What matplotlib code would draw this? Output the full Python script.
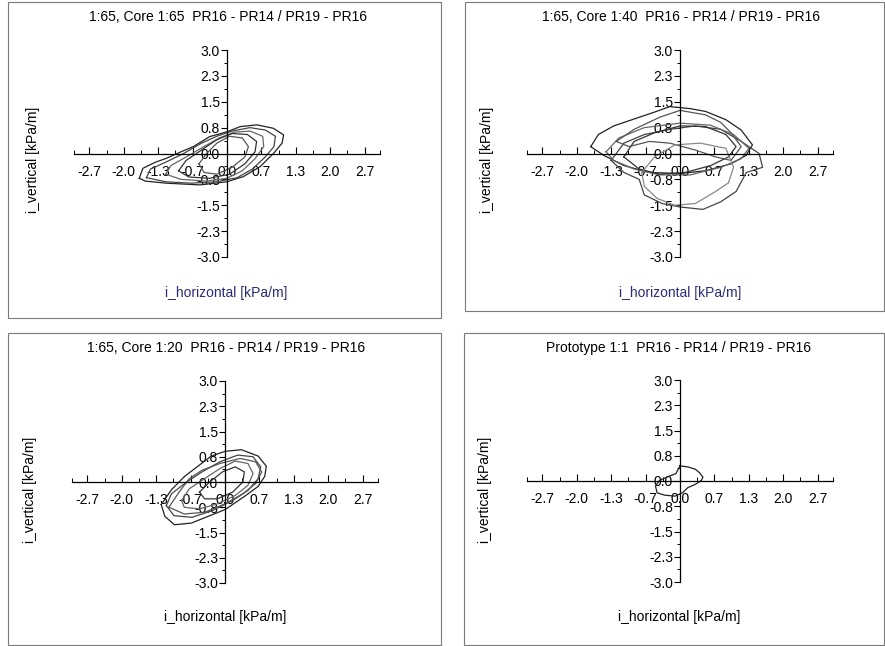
import matplotlib.pyplot as plt
from matplotlib.patches import Rectangle

plt.rcParams['font.family'] = ['Liberation Sans', 'DejaVu Sans']

# hydraulic gradient loops, i_horizontal vs i_vertical [kPa/m]
# 1:65, core 1:65
m65_x = [
    [-1.72, -1.65, -1.4, -1.19, -0.9, -0.66, -0.34, 0.0, 0.26, 0.59, 0.91, 1.11, 1.08, 0.91, 0.65, 0.32, 0.0, -0.53, -1.19, -1.6, -1.72],
    [-1.58, -1.5, -1.2, -0.85, -0.5, -0.2, 0.1, 0.45, 0.75, 0.95, 0.92, 0.75, 0.5, 0.2, -0.2, -0.7, -1.2, -1.58],
    [-1.2, -1.1, -0.8, -0.45, -0.15, 0.15, 0.45, 0.7, 0.72, 0.55, 0.3, 0.0, -0.4, -0.9, -1.2],
    [-0.95, -0.8, -0.5, -0.2, 0.1, 0.4, 0.58, 0.55, 0.35, 0.05, -0.35, -0.75, -0.95],
    [-0.55, -0.4, -0.2, 0.05, 0.3, 0.42, 0.35, 0.1, -0.2, -0.45, -0.55],
]
m65_y = [
    [-0.72, -0.43, -0.25, -0.14, 0.05, 0.2, 0.49, 0.63, 0.78, 0.83, 0.73, 0.54, 0.3, 0.0, -0.38, -0.67, -0.82, -0.91, -0.86, -0.8, -0.72],
    [-0.7, -0.45, -0.25, 0.0, 0.3, 0.5, 0.65, 0.75, 0.68, 0.5, 0.2, -0.1, -0.45, -0.7, -0.82, -0.86, -0.82, -0.7],
    [-0.6, -0.35, -0.1, 0.2, 0.45, 0.62, 0.65, 0.5, 0.2, -0.15, -0.5, -0.72, -0.8, -0.75, -0.6],
    [-0.5, -0.2, 0.1, 0.4, 0.58, 0.55, 0.35, 0.05, -0.3, -0.6, -0.72, -0.68, -0.5],
    [-0.3, 0.0, 0.3, 0.5, 0.45, 0.2, -0.1, -0.4, -0.6, -0.55, -0.3],
]

# 1:65, core 1:40
m40_x = [
    [-1.75, -1.6, -1.3, -0.9, -0.5, -0.2, 0.2, 0.5, 0.9, 1.2, 1.42, 1.3, 1.0, 0.5, 0.0, -0.6, -1.1, -1.5, -1.75],
    [-1.35, -1.1, -0.7, -0.2, 0.3, 0.8, 1.2, 1.55, 1.62, 1.3, 1.1, 0.8, 0.45, 0.0, -0.35, -0.7, -0.8, -1.1, -1.35],
    [-1.45, -1.2, -0.7, 0.0, 0.6, 1.05, 1.35, 1.2, 0.8, 0.2, -0.4, -0.9, -1.3, -1.45],
    [-1.1, -0.9, -0.5, 0.0, 0.5, 0.9, 1.1, 0.95, 0.6, 0.1, -0.4, -0.8, -1.1],
    [-1.25, -0.9, -0.4, 0.0, 0.5, 0.8, 1.0, 1.2, 1.0, 0.7, 0.3, -0.2, -0.6, -1.0, -1.25],
    [-0.75, -0.5, -0.1, 0.4, 0.9, 1.05, 0.95, 0.7, 0.3, -0.1, -0.45, -0.7, -0.75],
]
m40_y = [
    [0.2, 0.55, 0.8, 1.0, 1.2, 1.36, 1.3, 1.22, 0.98, 0.68, 0.25, -0.05, -0.3, -0.5, -0.58, -0.55, -0.35, -0.05, 0.2],
    [-0.2, 0.3, 0.55, 0.7, 0.8, 0.7, 0.35, 0.0, -0.4, -0.55, -1.1, -1.4, -1.62, -1.55, -1.45, -1.2, -0.75, -0.55, -0.2],
    [0.05, 0.45, 0.75, 0.88, 0.82, 0.55, 0.15, -0.15, -0.4, -0.62, -0.62, -0.45, -0.2, 0.05],
    [-0.1, 0.35, 0.6, 0.8, 0.78, 0.55, 0.2, -0.1, -0.35, -0.55, -0.6, -0.45, -0.1],
    [0.35, 0.7, 1.05, 1.25, 1.12, 0.9, 0.6, 0.2, -0.2, -0.1, 0.1, 0.3, 0.35, 0.2, 0.35],
    [-0.55, -0.1, 0.25, 0.3, 0.15, -0.4, -0.85, -1.1, -1.45, -1.5, -1.3, -0.95, -0.55],
]

# 1:65, core 1:20
m20_x = [
    [-1.25, -1.18, -0.99, -0.66, -0.33, 0.0, 0.39, 0.65, 0.78, 0.81, 0.65, 0.32, 0.0, -0.27, -0.53, -0.79, -1.05, -1.25],
    [-1.15, -1.05, -0.75, -0.45, -0.1, 0.25, 0.55, 0.7, 0.65, 0.45, 0.15, -0.25, -0.65, -1.0, -1.15],
    [-0.85, -0.7, -0.4, -0.1, 0.2, 0.45, 0.55, 0.45, 0.2, -0.15, -0.5, -0.8, -0.85],
    [-0.5, -0.3, -0.05, 0.2, 0.38, 0.35, 0.15, -0.15, -0.4, -0.5],
    [-1.1, -0.9, -0.7, -0.45, -0.1, 0.3, 0.6, 0.72, 0.6, 0.35, 0.0, -0.4, -0.8, -1.1],
]
m20_y = [
    [-0.67, -1.02, -1.27, -1.22, -1.02, -0.82, -0.42, -0.13, 0.17, 0.47, 0.77, 0.96, 0.91, 0.77, 0.47, 0.17, -0.23, -0.67],
    [-0.7, -0.35, 0.0, 0.3, 0.6, 0.8, 0.75, 0.45, 0.1, -0.25, -0.55, -0.85, -1.05, -1.0, -0.7],
    [-0.55, -0.2, 0.1, 0.4, 0.62, 0.55, 0.25, -0.1, -0.4, -0.65, -0.8, -0.75, -0.55],
    [-0.3, 0.0, 0.3, 0.45, 0.3, 0.0, -0.3, -0.5, -0.5, -0.3],
    [-0.75, -0.3, 0.1, 0.35, 0.55, 0.7, 0.6, 0.3, -0.05, -0.35, -0.65, -0.9, -0.95, -0.75],
]

# prototype 1:1
proto_x = [[0.0, 0.15, 0.3, 0.38, 0.45, 0.42, 0.3, 0.15, 0.05, -0.1, -0.3, -0.45, -0.48, -0.4, -0.25, -0.08, 0.0]]
proto_y = [[0.45, 0.42, 0.35, 0.25, 0.12, 0.02, -0.1, -0.2, -0.35, -0.45, -0.42, -0.35, -0.15, 0.02, 0.12, 0.22, 0.45]]

titles = ['1:65, Core 1:65  PR16 - PR14 / PR19 - PR16',
          '1:65, Core 1:40  PR16 - PR14 / PR19 - PR16',
          '1:65, Core 1:20  PR16 - PR14 / PR19 - PR16',
          'Prototype 1:1  PR16 - PR14 / PR19 - PR16']
xticks = [-2.7, -2.025, -1.35, -0.675, 0.0, 0.675, 1.35, 2.025, 2.7]
xtick_labels = ['-2.7', '-2.0', '-1.3', '-0.7', '0.0', '0.7', '1.3', '2.0', '2.7']
yticks = [3.0, 2.25, 1.5, 0.75, 0.0, -0.75, -1.5, -2.25, -3.0]
ytick_labels = ['3.0', '2.3', '1.5', '0.8', '0.0', '-0.8', '-1.5', '-2.3', '-3.0']

W, H = 885, 646
fig = plt.figure(figsize=(W / 100, H / 100), dpi=100)

def px(x0, y0, x1, y1):
    # pixel box (top-left origin) -> figure fraction rect
    return [x0 / W, 1 - y1 / H, (x1 - x0) / W, (y1 - y0) / H]

# panel frames, axes boxes, text anchors (pixels)
frames = [(8, 2, 441, 318), (465, 2, 884, 311), (8, 333, 441, 645), (464, 333, 884, 645)]
boxes = [(74, 50, 380, 257), (527, 50, 833, 257), (72, 381, 378, 583), (527, 380, 833, 582)]
title_pos = [(228, 17), (681, 17), (226, 348), (679, 348)]
ylab_pos = [(33, 160), (487, 160), (30, 490), (485, 490)]
xlab_pos = [(226, 293), (680, 293), (225, 617), (679, 617)]
xlab_color = ['#2b2b7a', '#2b2b7a', 'black', 'black']
data = [(m65_x, m65_y), (m40_x, m40_y), (m20_x, m20_y), (proto_x, proto_y)]
line_colors = ['#222222', '#444444', '#666666', '#333333', '#555555', '#888888']

for i in range(4):
    x0, y0, x1, y1 = frames[i]
    fig.patches.append(Rectangle((x0 / W, 1 - y1 / H), (x1 - x0) / W, (y1 - y0) / H,
                                 transform=fig.transFigure, fill=False,
                                 edgecolor='#7a7a7a', lw=0.8))

    ax = fig.add_axes(px(*boxes[i]))
    xs, ys = data[i]
    for j in range(len(xs)):
        ax.plot(xs[j], ys[j], color=line_colors[j % len(line_colors)], lw=0.9)

    ax.set_xlim(-3.0, 3.0)
    ax.set_ylim(-3.0, 3.0)
    ax.spines['left'].set_position(('data', 0))
    ax.spines['bottom'].set_position(('data', 0))
    ax.spines['top'].set_visible(False)
    ax.spines['right'].set_visible(False)
    ax.spines['left'].set_linewidth(0.9)
    ax.spines['bottom'].set_linewidth(0.9)
    ax.patch.set_visible(False)

    ax.set_xticks(xticks)
    ax.set_xticklabels(xtick_labels)
    ax.set_xticks([-3.0, -2.3625, -1.6875, -1.0125, -0.3375, 0.3375, 1.0125, 1.6875, 2.3625, 3.0], minor=True)
    ax.set_yticks(yticks)
    ax.set_yticklabels(ytick_labels)
    ax.set_yticks([2.625, 1.875, 1.125, 0.375, -0.375, -1.125, -1.875, -2.625], minor=True)
    ax.tick_params(axis='x', which='major', direction='in', length=5, width=0.8, pad=8, labelsize=10)
    ax.tick_params(axis='x', which='minor', direction='in', length=3, width=0.7)
    ax.tick_params(axis='y', which='major', direction='out', length=4, width=0.8, pad=1, labelsize=10)
    ax.tick_params(axis='y', which='minor', direction='out', length=2.5, width=0.7)

    tx, ty = title_pos[i]
    fig.text(tx / W, 1 - ty / H, titles[i], ha='center', va='center', fontsize=10)
    lx, ly = ylab_pos[i]
    fig.text(lx / W, 1 - ly / H, 'i_vertical [kPa/m]', ha='center', va='center',
             rotation=90, fontsize=10)
    hx, hy = xlab_pos[i]
    fig.text(hx / W, 1 - hy / H, 'i_horizontal [kPa/m]', ha='center', va='center',
             fontsize=10, color=xlab_color[i])

fig.savefig('out.png', dpi=100)
